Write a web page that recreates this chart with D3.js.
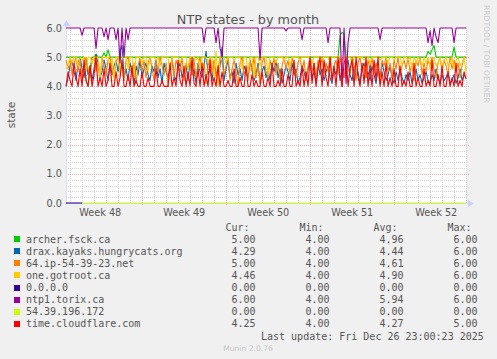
<!DOCTYPE html>
<html><head><meta charset="utf-8">
<script src="https://cdn.jsdelivr.net/npm/d3@7/dist/d3.min.js"></script>
<style>body{margin:0;background:#f0f0f0}svg{display:block}</style>
</head><body>
<svg id="chart" width="497" height="359"></svg>
<script>
// ---------- DATA ----------
const titleText = "NTP states - by month";
const yLabel = "state";
const yTicks = [0, 1, 2, 3, 4, 5, 6];
const startTime = Date.UTC(2025, 10, 23, 15, 30); // first sample
const stepHours = 4;                               // sample interval
const seriesNames = ["archer.fsck.ca","drax.kayaks.hungrycats.org","64.ip-54-39-23.net","one.gotroot.ca","0.0.0.0","ntp1.torix.ca","54.39.196.172","time.cloudflare.com"];
const seriesColors = ["#00CC00","#0066B3","#FF8000","#FFCC00","#330099","#990099","#CCFF00","#FF0000"];
const statCur = ["5.00","4.29","5.00","4.46","0.00","6.00","0.00","4.25"];
const statMin = ["4.00","4.00","4.00","4.00","0.00","4.00","0.00","4.00"];
const statAvg = ["4.96","4.44","4.61","4.90","0.00","5.94","0.00","4.27"];
const statMax = ["6.00","6.00","6.00","6.00","0.00","6.00","0.00","5.00"];
const lastUpdate = "Last update: Fri Dec 26 23:00:23 2025";

const archer = [
5.0,5.0,5.0,5.0,5.0,5.0,5.0,5.0,5.0,5.0,
4.2,4.0,4.6,5.0,5.0,5.1,5.0,5.0,5.0,5.15,
5.0,5.25,5.0,5.0,5.0,5.0,5.0,5.0,5.0,5.0,
5.0,5.0,5.0,5.0,5.0,5.0,5.0,5.0,5.0,5.0,
5.0,5.0,5.0,5.0,5.0,5.0,5.0,5.0,5.0,5.0,
5.0,5.0,5.0,5.0,5.0,5.0,5.0,5.0,5.0,5.0,
5.0,5.0,5.0,4.5,5.0,5.0,5.0,5.0,5.0,5.0,
5.0,5.0,5.0,5.0,5.0,5.0,5.0,5.0,5.0,5.0,
5.0,5.0,5.0,5.0,5.0,5.0,5.0,5.0,5.0,5.0,
5.0,5.0,5.0,5.0,5.0,5.0,5.0,5.0,5.0,5.0,
5.0,5.0,5.0,5.0,5.0,5.0,5.0,5.0,5.0,5.0,
5.0,5.0,5.0,5.0,5.0,5.0,5.0,5.0,5.0,5.0,
5.0,5.0,5.0,5.0,5.0,5.0,5.0,5.0,5.0,5.0,
5.0,5.0,5.0,5.0,5.0,5.0,5.0,5.75,5.85,5.8,
5.0,5.0,5.0,5.0,5.0,5.0,5.0,5.0,5.0,5.0,
5.0,5.0,5.0,5.0,5.0,5.0,5.0,5.0,5.0,5.0,
5.0,5.0,5.0,5.0,5.0,5.0,5.0,5.0,5.0,5.0,
5.0,5.0,5.0,5.0,5.0,5.0,5.0,5.0,5.0,5.0,
5.0,5.2,5.1,5.25,5.4,5.0,5.0,5.0,5.0,5.0,
5.0,5.0,5.0,5.0,5.35,5.0,5.0,5.0,5.0,5.0,
5.0];
const drax = [
4.0,4.3,4.7,4.9,4.5,4.2,4.8,5.0,4.6,4.3,
4.9,4.4,4.7,4.2,4.6,5.1,4.8,4.3,4.5,4.9,
4.6,4.2,4.8,4.4,4.7,4.9,4.5,5.2,5.4,4.3,
4.6,4.2,4.8,4.5,4.1,4.7,4.4,4.9,4.3,4.6,
4.8,4.4,4.2,4.7,4.5,4.9,4.3,4.6,4.1,4.8,
4.5,4.3,4.7,4.9,4.4,4.2,4.6,4.8,4.3,4.5,
4.7,4.2,4.9,4.4,4.6,4.1,4.8,4.5,4.3,4.7,
5.2,4.4,4.6,4.2,4.8,4.5,4.3,4.7,5.35,4.2,
4.6,4.9,4.3,4.5,4.1,4.8,4.4,4.6,4.2,4.7,
4.5,4.3,4.9,4.6,4.2,4.4,4.8,4.1,4.5,4.7,
4.3,4.6,4.2,4.8,4.5,4.9,4.3,4.6,4.1,4.4,
4.7,4.5,4.2,4.8,4.4,4.6,4.1,4.3,4.7,4.5,
4.2,4.6,4.9,4.3,4.5,4.1,4.8,4.4,4.6,4.2,
4.5,4.7,4.3,4.1,4.6,4.4,4.8,4.2,4.5,4.3,
4.6,4.9,4.4,4.2,4.7,4.3,4.5,4.1,4.6,4.8,
4.3,4.5,4.2,4.7,4.4,4.1,4.6,4.3,4.8,4.5,
4.2,4.4,4.7,4.3,4.1,4.5,4.2,4.6,4.3,4.1,
4.4,4.2,4.5,4.1,4.3,4.6,4.2,4.4,4.1,4.3,
4.5,4.2,4.1,4.4,4.2,4.6,4.3,4.1,4.4,4.2,
4.3,4.5,4.1,4.2,4.4,4.1,4.3,4.6,4.2,4.4,
4.29];
const ip64 = [
4.9,4.6,5.0,4.4,4.8,5.0,4.5,4.9,4.2,4.7,
5.0,4.6,4.3,4.9,5.0,4.5,4.8,4.2,5.0,4.7,
4.4,4.9,5.0,4.6,4.3,4.8,5.0,4.5,4.7,4.2,
4.9,5.0,4.6,4.4,4.8,4.1,4.7,5.0,4.5,4.9,
4.3,4.8,5.0,4.6,4.2,4.9,4.5,5.0,4.7,4.4,
4.8,4.0,4.6,5.0,4.3,4.9,4.7,4.5,5.0,4.2,
4.8,4.6,5.0,4.4,4.9,4.3,4.7,5.0,4.5,4.8,
4.1,4.7,5.0,4.5,4.9,4.3,4.6,5.0,4.8,4.4,
4.7,5.0,4.2,4.6,4.9,4.5,4.0,4.8,5.0,4.4,
4.6,4.2,4.9,4.5,5.0,4.3,4.7,4.1,4.8,5.0,
4.5,4.3,4.9,4.6,5.0,4.4,4.8,4.2,4.7,5.0,
4.6,4.9,4.4,5.0,4.7,4.3,4.8,5.0,4.5,4.9,
4.2,4.7,5.0,4.5,4.8,4.3,4.9,4.6,5.0,4.4,
4.8,4.5,5.0,4.2,4.7,4.9,4.4,5.0,4.6,4.3,
4.9,4.6,4.4,5.0,4.7,4.2,4.8,5.0,4.5,4.7,
4.3,4.9,4.6,5.0,4.4,4.8,4.5,4.1,4.9,4.7,
5.0,4.5,4.8,4.3,4.9,4.6,5.0,4.4,4.7,4.9,
4.6,5.0,4.5,4.8,4.2,4.9,4.7,5.0,4.4,4.8,
4.5,4.9,4.7,5.0,4.6,4.3,4.8,5.0,4.5,4.9,
4.7,4.4,5.0,4.6,4.9,4.5,4.8,4.3,4.7,5.0,
5.0];
const gotroot = [
4.6,4.7,5.0,4.8,5.0,5.0,4.7,5.0,4.9,5.0,
4.5,5.0,5.0,4.8,5.0,5.0,5.0,4.3,5.0,5.0,
5.0,5.0,4.6,5.0,4.2,5.0,5.0,4.4,5.0,5.0,
5.0,4.6,5.0,5.0,4.3,5.0,5.0,5.0,4.8,5.0,
5.0,4.5,5.0,5.0,5.0,4.9,5.0,4.7,5.0,5.0,
5.0,5.0,4.4,5.0,5.0,5.0,5.0,4.8,5.0,5.0,
5.0,4.5,5.0,5.0,5.0,4.9,5.0,4.6,5.0,5.0,
5.0,4.8,5.0,5.0,4.3,5.2,4.0,5.0,5.0,5.0,
4.8,5.0,5.0,5.0,4.9,5.0,5.0,5.0,4.6,5.0,
5.0,4.5,5.0,5.0,4.3,5.0,5.0,4.7,5.0,5.0,
5.0,4.4,5.0,5.0,5.0,4.8,5.0,5.0,5.0,4.9,
5.0,5.0,4.7,5.0,5.0,5.0,5.0,4.9,5.0,5.0,
5.0,5.0,5.0,4.8,5.0,5.0,5.0,5.0,4.9,5.0,
5.0,5.0,4.8,5.0,5.0,5.0,5.0,5.0,4.9,5.0,
5.0,5.0,5.0,4.7,5.0,5.0,5.0,5.0,5.0,4.9,
5.0,5.0,4.8,5.0,5.0,5.0,5.0,4.9,5.0,5.0,
5.0,4.8,5.0,5.0,4.9,5.0,5.0,5.0,4.7,5.0,
5.0,4.9,5.0,4.6,5.0,4.8,5.0,4.9,4.7,5.0,
4.8,5.0,4.6,4.9,5.0,4.7,4.8,5.0,4.6,4.9,
5.0,4.7,4.8,5.0,4.6,4.9,5.0,4.7,4.8,5.0,
4.46];
const zeroes = [
0,0,0,0,0,0,0,0,0,null,
null,null,null,null,null,null,null,null,null,null,
null,null,null,null,null,null,null,null,null,null,
null,null,null,null,null,null,null,null,null,null,
null,null,null,null,null,null,null,null,null,null,
null,null,null,null,null,null,null,null,null,null,
null,null,null,null,null,null,null,null,null,null,
null,null,null,null,null,null,null,null,null,null,
null,null,null,null,null,null,null,null,null,null,
null,null,null,null,null,null,null,null,null,null,
null,null,null,null,null,null,null,null,null,null,
null,null,null,null,null,null,null,null,null,null,
null,null,null,null,null,null,null,null,null,null,
null,null,null,null,null,null,null,null,null,null,
null,null,null,null,null,null,null,null,null,null,
null,null,null,null,null,null,null,null,null,null,
null,null,null,null,null,null,null,null,null,null,
null,null,null,null,null,null,null,null,null,null,
null,null,null,null,null,null,null,null,null,null,
null,null,null,null,null,null,null,null,null,null,
null];
const torix = [
6.0,6.0,6.0,6.0,6.0,6.0,6.0,6.0,5.75,6.0,
6.0,6.0,6.0,6.0,6.0,5.3,6.0,6.0,6.0,5.7,
6.0,5.6,6.0,6.0,6.0,5.6,6.0,4.8,6.0,5.0,
6.0,5.6,6.0,6.0,6.0,6.0,6.0,6.0,6.0,6.0,
6.0,6.0,6.0,6.0,6.0,6.0,6.0,6.0,6.0,6.0,
6.0,6.0,6.0,6.0,6.0,6.0,6.0,6.0,6.0,6.0,
6.0,6.0,6.0,6.0,6.0,6.0,6.0,6.0,6.0,5.5,
6.0,6.0,6.0,6.0,6.0,5.5,6.0,5.3,5.0,6.0,
6.0,6.0,6.0,6.0,6.0,6.0,6.0,6.0,6.0,6.0,
6.0,6.0,6.0,6.0,6.0,6.0,6.0,4.9,6.0,6.0,
6.0,6.0,6.0,6.0,6.0,6.0,6.0,6.0,6.0,6.0,
5.9,6.0,6.0,6.0,6.0,6.0,6.0,6.0,5.6,6.0,
6.0,6.0,6.0,6.0,6.0,6.0,6.0,6.0,6.0,6.0,
6.0,5.5,6.0,6.0,6.0,6.0,6.0,6.0,4.0,6.0,
4.1,5.5,6.0,6.0,6.0,6.0,6.0,6.0,6.0,6.0,
6.0,6.0,6.0,6.0,6.0,6.0,6.0,5.6,6.0,6.0,
6.0,6.0,6.0,6.0,6.0,6.0,6.0,6.0,6.0,6.0,
6.0,6.0,6.0,6.0,6.0,6.0,6.0,6.0,6.0,6.0,
6.0,5.5,5.9,5.4,6.0,5.7,5.5,6.0,6.0,6.0,
6.0,6.0,6.0,6.0,5.5,6.0,6.0,6.0,6.0,6.0,
6.0];
const ip54 = [
null,null,null,null,null,null,null,null,0,0,
0,0,0,0,0,0,0,0,0,0,
0,0,0,0,0,0,0,0,0,0,
0,0,0,0,0,0,0,0,0,0,
0,0,0,0,0,0,0,0,0,0,
0,0,0,0,0,0,0,0,0,0,
0,0,0,0,0,0,0,0,0,0,
0,0,0,0,0,0,0,0,0,0,
0,0,0,0,0,0,0,0,0,0,
0,0,0,0,0,0,0,0,0,0,
0,0,0,0,0,0,0,0,0,0,
0,0,0,0,0,0,0,0,0,0,
0,0,0,0,0,0,0,0,0,0,
0,0,0,0,0,0,0,0,0,0,
0,0,0,0,0,0,0,0,0,0,
0,0,0,0,0,0,0,0,0,0,
0,0,0,0,0,0,0,0,0,0,
0,0,0,0,0,0,0,0,0,0,
0,0,0,0,0,0,0,0,0,0,
0,0,0,0,0,0,0,0,0,0,
0];
const cloudflare = [
4.0,4.5,4.2,4.0,4.8,4.3,4.0,4.6,4.0,4.9,
4.2,4.0,4.7,4.0,4.4,5.0,4.0,4.3,4.0,4.6,
4.0,4.2,4.8,4.0,4.0,4.5,4.0,4.3,4.9,4.0,
4.0,4.4,4.0,4.7,4.0,4.2,4.0,4.0,4.5,4.0,
4.0,4.3,4.0,4.0,4.0,4.6,4.0,4.0,4.2,4.0,
4.0,4.0,4.8,4.0,4.3,4.0,4.9,4.2,4.0,4.7,
4.0,4.5,4.0,5.0,4.1,4.0,4.6,4.0,4.8,4.0,
4.4,4.0,4.9,4.0,4.3,4.0,4.7,4.0,4.5,4.0,
4.0,4.2,4.0,4.0,4.6,4.0,4.0,4.3,4.0,4.0,
4.7,4.0,4.0,4.4,4.0,4.2,4.0,4.0,4.5,4.0,
4.0,4.3,4.0,4.8,4.0,4.0,4.2,4.0,4.6,4.0,
4.0,4.4,4.0,4.0,4.9,4.0,4.2,4.0,4.7,4.0,
4.5,4.0,5.0,4.1,4.8,4.0,4.6,5.0,4.0,4.9,
4.3,4.0,5.0,4.2,4.7,4.0,5.0,4.4,4.0,4.8,
5.0,4.0,4.6,4.9,4.0,5.0,4.3,4.0,4.8,4.1,
5.0,4.0,4.7,4.0,4.9,4.2,5.0,4.0,4.5,4.0,
4.8,4.0,4.3,4.0,4.6,4.0,4.0,4.7,4.0,4.2,
4.0,4.5,4.0,4.0,4.8,4.0,4.3,4.0,4.0,4.6,
4.0,4.2,4.0,4.9,4.0,4.0,4.4,4.0,4.7,4.0,
4.0,4.5,4.0,4.3,4.0,4.8,4.0,4.2,4.0,4.5,
4.25];
const seriesValues = [archer, drax, ip64, gotroot, zeroes, torix, ip54, cloudflare];

// ---------- LAYOUT ----------
const svg = d3.select("#chart");
const W = 497, H = 359;
const plot = {left: 66, right: 467, top: 28, bottom: 203};
svg.append("rect").attr("width", W).attr("height", H).attr("fill", "#f0f0f0");

const x = d3.scaleUtc()
  .domain([new Date(Date.UTC(2025, 10, 23, 15, 24)), new Date(Date.UTC(2025, 11, 27, 1, 24))])
  .range([plot.left, plot.right]);
const y = d3.scaleLinear().domain([0, 6]).range([plot.bottom, plot.top]);

svg.append("rect").attr("x", plot.left).attr("y", plot.top)
  .attr("width", plot.right - plot.left).attr("height", plot.bottom - plot.top).attr("fill", "#ffffff");

const grid = svg.append("g").attr("shape-rendering", "crispEdges");
const minorY = d3.range(0, 30).map(i => i * 0.2).filter(v => Math.abs(v - Math.round(v)) > 1e-6);
grid.selectAll(".hmin").data(minorY).join("line")
  .attr("x1", plot.left).attr("x2", plot.right)
  .attr("y1", d => Math.round(y(d)) + 0.5).attr("y2", d => Math.round(y(d)) + 0.5)
  .attr("stroke", "#d4d4d4").attr("stroke-dasharray", "1,1");
const days = d3.utcDay.range(x.domain()[0], x.domain()[1]);
grid.selectAll(".vmin").data(days).join("line")
  .attr("x1", d => Math.round(x(d)) + 0.5).attr("x2", d => Math.round(x(d)) + 0.5)
  .attr("y1", plot.top).attr("y2", plot.bottom)
  .attr("stroke", "#d4d4d4").attr("stroke-dasharray", "1,1");
grid.selectAll(".hmaj").data(yTicks.filter(v => v > 0 && v < 6)).join("line")
  .attr("x1", plot.left).attr("x2", plot.right + 2)
  .attr("y1", d => Math.round(y(d)) + 0.5).attr("y2", d => Math.round(y(d)) + 0.5)
  .attr("stroke", "#eeaaaa").attr("stroke-dasharray", "1,1");
const weeks = d3.utcSunday.range(x.domain()[0], x.domain()[1]);
grid.selectAll(".vmaj").data(weeks).join("line")
  .attr("x1", d => Math.round(x(d)) + 0.5).attr("x2", d => Math.round(x(d)) + 0.5)
  .attr("y1", plot.top).attr("y2", plot.bottom + 2)
  .attr("stroke", "#eeaaaa").attr("stroke-dasharray", "1,1");

// axis lines and arrows
svg.append("line").attr("x1", plot.left + 0.5).attr("x2", plot.left + 0.5)
  .attr("y1", plot.top - 4).attr("y2", plot.bottom + 0.5).attr("stroke", "#d8ddff");
svg.append("line").attr("x1", plot.left).attr("x2", plot.right + 2)
  .attr("y1", plot.bottom + 0.5).attr("y2", plot.bottom + 0.5).attr("stroke", "#d8ddff");
svg.append("path").attr("d", `M${plot.left - 3},${plot.top - 2} L${plot.left + 0.5},${plot.top - 8} L${plot.left + 4},${plot.top - 2} Z`).attr("fill", "#c8d0ff");
svg.append("path").attr("d", `M${plot.right + 1},${plot.bottom - 3} L${plot.right + 7},${plot.bottom + 0.5} L${plot.right + 1},${plot.bottom + 4} Z`).attr("fill", "#c8d0ff");

// series lines
const line = d3.line()
  .defined(d => d.v !== null)
  .x(d => x(d.t))
  .y(d => y(d.v));
seriesValues.forEach((vals, k) => {
  const data = vals.map((v, i) => ({t: new Date(startTime + i * stepHours * 3600e3), v}));
  svg.append("path").datum(data).attr("d", line)
    .attr("fill", "none").attr("stroke", seriesColors[k]).attr("stroke-width", 1.1)
    .attr("stroke-linejoin", "round");
});

const txt = "#555555";
svg.append("g").selectAll("text").data(yTicks).join("text")
  .attr("x", 62).attr("y", d => y(d) + 3.5).attr("text-anchor", "end")
  .attr("font-family", "DejaVu Sans").attr("font-size", "9.7px").attr("fill", txt)
  .text(d => d3.format(".1f")(d));
const fmtWeek = d3.utcFormat("Week %V");
const weekMids = weeks.concat([d3.utcSunday.offset(weeks[0], -1)])
  .map(d => new Date(+d + 3.5 * 864e5))
  .filter(m => x(m) > plot.left && x(m) < plot.right);
svg.append("g").selectAll("text").data(weekMids).join("text")
  .attr("x", d => x(d)).attr("y", 216)
  .attr("text-anchor", "middle")
  .attr("font-family", "DejaVu Sans").attr("font-size", "9.7px").attr("fill", txt)
  .text(d => fmtWeek(d));

svg.append("text").attr("x", 248).attr("y", 23.5).attr("text-anchor", "middle")
  .attr("font-family", "DejaVu Sans").attr("font-size", "12.8px").attr("fill", txt).text(titleText);
svg.append("text").attr("transform", "translate(14.5,115) rotate(-90)").attr("text-anchor", "middle")
  .attr("font-family", "DejaVu Sans").attr("font-size", "10.5px").attr("fill", txt).text(yLabel);
svg.append("text").attr("transform", "translate(484,5) rotate(90)").attr("text-anchor", "start")
  .attr("font-family", "DejaVu Sans").attr("font-size", "7.6px").attr("fill", "#cccccc").text("RRDTOOL / TOBI OETIKER");

// legend
const mono = "DejaVu Sans Mono";
const colX = [231.5, 305.5, 379.5, 453.5];
const heads = ["Cur:", "Min:", "Avg:", "Max:"];
svg.append("g").selectAll("text").data(heads).join("text")
  .attr("x", (d, i) => colX[i] - 6).attr("y", 231)
  .attr("font-family", mono).attr("font-size", "10px").attr("fill", txt).text(d => d);
const lg = svg.append("g");
seriesNames.forEach((n, k) => {
  const cy = 239.3 + k * 12.06;
  lg.append("rect").attr("x", 14).attr("y", Math.round(cy - 3)).attr("width", 6).attr("height", 6).attr("fill", seriesColors[k]);
  lg.append("text").attr("x", 26).attr("y", cy + 3.6).attr("font-family", mono).attr("font-size", "10px").attr("fill", txt).text(n);
  [statCur[k], statMin[k], statAvg[k], statMax[k]].forEach((s, j) => {
    lg.append("text").attr("x", colX[j]).attr("y", cy + 3.6).attr("font-family", mono).attr("font-size", "10px").attr("fill", txt).text(s);
  });
});
svg.append("text").attr("x", 261).attr("y", 339.5).attr("font-family", mono).attr("font-size", "10px").attr("fill", txt).text(lastUpdate);
svg.append("text").attr("x", 248).attr("y", 351).attr("text-anchor", "middle")
  .attr("font-family", "DejaVu Sans").attr("font-size", "7.6px").attr("fill", "#c8c8c8").text("Munin 2.0.76");
</script>
</body></html>
